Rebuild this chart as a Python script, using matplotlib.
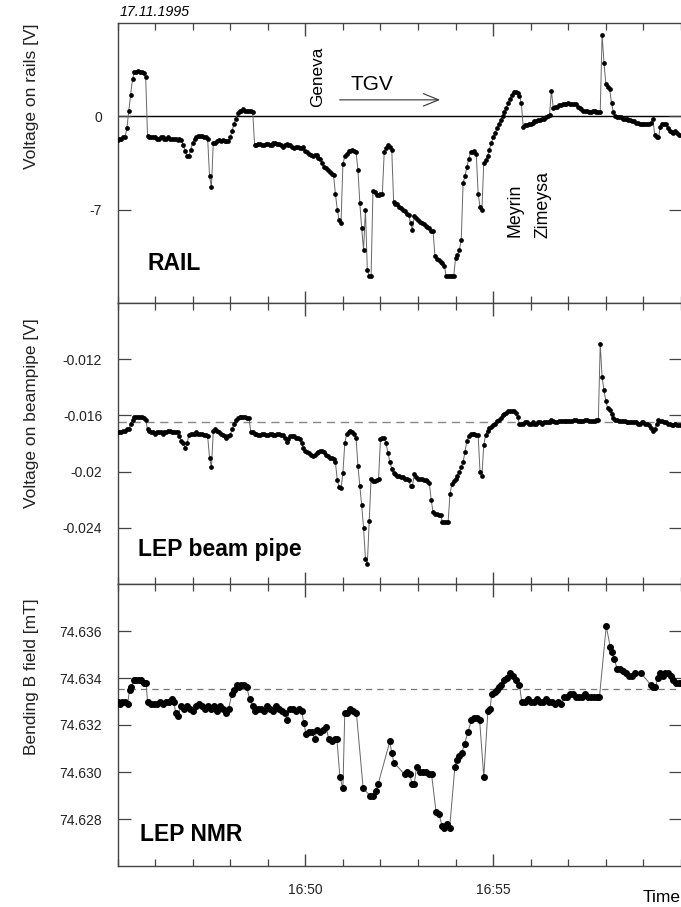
import numpy as np
import matplotlib
matplotlib.use("Agg")
import matplotlib.pyplot as plt
from matplotlib.ticker import FixedLocator, MultipleLocator, FuncFormatter

plt.rcParams['font.family'] = ['Liberation Sans', 'DejaVu Sans']

# time in minutes after 16:45; rail & beam pipe read every 0.05 min (one row = one minute)
t_grid = np.round(np.arange(0, 301) * 0.05, 2)

rail_v = [
    -1.8, -1.7, -1.7, -1.6, -1.6, -0.9, 0.4, 1.6, 2.8, 3.3, 3.3, 3.4, 3.3, 3.3, 3.2, 2.9, -1.5, -1.6, -1.6, -1.6,
    -1.6, -1.7, -1.7, -1.6, -1.6, -1.7, -1.7, -1.6, -1.7, -1.7, -1.7, -1.7, -1.8, -1.7, -1.8, -2.2, -2.6, -3.0, -3.0, -2.5,
    -2.0, -1.7, -1.6, -1.5, -1.5, -1.5, -1.6, -1.6, -1.7, -4.5, -5.3, -2.0, -2.0, -1.9, -1.8, -1.9, -1.8, -1.9, -1.9, -1.9,
    -1.6, -1.1, -0.6, -0.2, 0.2, 0.4, 0.4, 0.5, 0.4, 0.4, 0.4, 0.4, 0.3, -2.2, -2.2, -2.1, -2.1, -2.2, -2.2, -2.1,
    -2.1, -2.2, -2.2, -2.0, -2.0, -2.1, -2.1, -2.2, -2.3, -2.2, -2.1, -2.2, -2.2, -2.3, -2.4, -2.3, -2.3, -2.4, -2.4, -2.3,
    -2.6, -2.7, -2.8, -2.9, -3.0, -2.9, -2.9, -3.1, -3.2, -3.5, -3.8, -3.9, -4.0, -4.2, -4.3, -4.4, -5.8, -7.0, -7.8, -8.0,
    -3.6, -3.0, -2.8, -2.6, -2.6, -2.5, -2.6, -2.7, -4.0, -6.5, -8.4, -10.0, -7.0, -11.5, -12.0, -12.0, -5.6, -5.7, -5.9, -5.9,
    -5.8, -5.8, -2.7, -2.4, -2.2, -2.3, -2.5, -6.4, -6.6, -6.6, -6.8, -6.9, -7.0, -7.1, -7.3, -7.4, -8.0, -8.5, -7.5, -7.6,
    -7.8, -7.9, -8.0, -8.1, -8.2, -8.3, -8.4, -8.6, -8.6, -10.5, -10.7, -10.8, -10.9, -11.0, -11.2, -12.0, -12.0, -12.0, -12.0, -12.0,
    -10.6, -10.4, -10.0, -9.3, -5.0, -4.5, -3.8, -3.2, -2.7, -2.7, -2.6, -2.8, -5.8, -6.8, -7.0, -3.5, -3.3, -3.0, -2.5, -2.0,
    -1.6, -1.3, -0.9, -0.6, -0.3, 0.0, 0.3, 0.6, 1.0, 1.3, 1.6, 1.8, 1.8, 1.7, 1.5, 1.0, -0.8, -0.7, -0.7, -0.6,
    -0.6, -0.5, -0.4, -0.4, -0.3, -0.3, -0.2, -0.2, -0.1, 0.0, 0.1, 1.9, 0.6, 0.7, 0.7, 0.8, 0.8, 0.9, 0.9, 0.9,
    1.0, 0.9, 0.9, 0.9, 0.9, 0.7, 0.6, 0.5, 0.4, 0.4, 0.4, 0.3, 0.3, 0.4, 0.4, 0.3, 0.3, 0.3, 6.1, 4.0,
    2.4, 2.2, 2.0, 1.0, 0.3, 0.0, -0.1, -0.1, -0.1, -0.2, -0.2, -0.2, -0.3, -0.3, -0.4, -0.4, -0.5, -0.5, -0.6, -0.6,
    -0.6, -0.6, -0.6, -0.6, -0.5, -0.2, -1.4, -1.6, -1.6, -0.8, -0.6, -0.6, -0.6, -0.9, -1.1, -1.2, -1.3, -1.1, -1.3, -1.4,
    -1.4,
]

pipe_v = [
    -0.0172, -0.0172, -0.0172, -0.0171, -0.0171, -0.0170, -0.0170, -0.0166, -0.0163, -0.0161,
    -0.0161, -0.0161, -0.0161, -0.0161, -0.0162, -0.0163, -0.0170, -0.0171, -0.0172, -0.0172,
    -0.0173, -0.0172, -0.0172, -0.0172, -0.0173, -0.0172, -0.0172, -0.0171, -0.0171, -0.0172,
    -0.0172, -0.0172, -0.0172, -0.0175, -0.0178, -0.0180, -0.0183, -0.0180, -0.0174, -0.0173,
    -0.0173, -0.0173, -0.0172, -0.0173, -0.0173, -0.0173, -0.0174, -0.0174, -0.0175, -0.0190,
    -0.0197, -0.0171, -0.0170, -0.0171, -0.0172, -0.0173, -0.0174, -0.0175, -0.0176, -0.0175,
    -0.0174, -0.0170, -0.0166, -0.0163, -0.0162, -0.0161, -0.0161, -0.0161, -0.0161, -0.0162,
    -0.0162, -0.0172, -0.0172, -0.0173, -0.0173, -0.0174, -0.0174, -0.0173, -0.0173, -0.0174,
    -0.0174, -0.0173, -0.0173, -0.0174, -0.0174, -0.0173, -0.0173, -0.0174, -0.0174, -0.0176,
    -0.0179, -0.0177, -0.0175, -0.0175, -0.0175, -0.0176, -0.0176, -0.0177, -0.0180, -0.0183,
    -0.0185, -0.0186, -0.0187, -0.0188, -0.0189, -0.0188, -0.0187, -0.0186, -0.0185, -0.0185,
    -0.0186, -0.0188, -0.0189, -0.0190, -0.0190, -0.0191, -0.0193, -0.0206, -0.0211, -0.0212,
    -0.0201, -0.0180, -0.0173, -0.0172, -0.0171, -0.0172, -0.0173, -0.0176, -0.0196, -0.0210,
    -0.0224, -0.0240, -0.0262, -0.0266, -0.0235, -0.0205, -0.0207, -0.0207, -0.0206, -0.0205,
    -0.0177, -0.0176, -0.0176, -0.0180, -0.0187, -0.0193, -0.0198, -0.0201, -0.0202, -0.0203,
    -0.0203, -0.0204, -0.0204, -0.0205, -0.0205, -0.0206, -0.0210, -0.0210, -0.0202, -0.0204,
    -0.0205, -0.0205, -0.0205, -0.0206, -0.0206, -0.0207, -0.0208, -0.0220, -0.0229, -0.0230,
    -0.0230, -0.0231, -0.0231, -0.0236, -0.0236, -0.0236, -0.0236, -0.0216, -0.0209, -0.0207,
    -0.0205, -0.0203, -0.0200, -0.0197, -0.0193, -0.0186, -0.0178, -0.0175, -0.0173, -0.0173,
    -0.0173, -0.0174, -0.0174, -0.0200, -0.0203, -0.0181, -0.0174, -0.0171, -0.0169, -0.0168,
    -0.0167, -0.0166, -0.0164, -0.0163, -0.0162, -0.0160, -0.0159, -0.0158, -0.0157, -0.0157,
    -0.0157, -0.0157, -0.0158, -0.0161, -0.0166, -0.0166, -0.0166, -0.0165, -0.0165, -0.0166,
    -0.0166, -0.0165, -0.0166, -0.0166, -0.0165, -0.0165, -0.0166, -0.0165, -0.0165, -0.0165,
    -0.0165, -0.0163, -0.0164, -0.0165, -0.0165, -0.0164, -0.0164, -0.0164, -0.0164, -0.0164,
    -0.0164, -0.0164, -0.0164, -0.0163, -0.0163, -0.0164, -0.0164, -0.0164, -0.0164, -0.0163,
    -0.0163, -0.0164, -0.0164, -0.0164, -0.0164, -0.0163, -0.0163, -0.0109, -0.0133, -0.0142,
    -0.0150, -0.0155, -0.0156, -0.0159, -0.0162, -0.0163, -0.0163, -0.0164, -0.0164, -0.0164,
    -0.0164, -0.0165, -0.0165, -0.0165, -0.0165, -0.0165, -0.0165, -0.0166, -0.0166, -0.0165,
    -0.0165, -0.0166, -0.0166, -0.0167, -0.0169, -0.0171, -0.0170, -0.0166, -0.0163, -0.0164,
    -0.0164, -0.0165, -0.0165, -0.0166, -0.0166, -0.0167, -0.0167, -0.0166, -0.0167, -0.0167,
    -0.0167,
]

nmr_t = [
    0.00, 0.07, 0.13, 0.20, 0.27, 0.32, 0.37, 0.43, 0.50, 0.57, 0.63, 0.70, 0.76,
    0.80, 0.88, 0.96, 1.04, 1.12, 1.20, 1.28, 1.36, 1.44, 1.50, 1.55, 1.62, 1.68,
    1.76, 1.84, 1.92, 2.00, 2.08, 2.16, 2.24, 2.32, 2.40, 2.48, 2.56, 2.64, 2.72,
    2.80, 2.88, 2.96, 3.04, 3.10, 3.17, 3.24, 3.30, 3.37, 3.44, 3.52, 3.60, 3.66,
    3.74, 3.82, 3.90, 3.98, 4.06, 4.14, 4.22, 4.30, 4.38, 4.46, 4.52, 4.58, 4.66,
    4.74, 4.82, 4.90, 4.96, 5.02, 5.10, 5.18, 5.25, 5.32, 5.40, 5.48, 5.56, 5.62,
    5.70, 5.78, 5.84, 5.92, 6.00, 6.05, 6.12, 6.18, 6.26, 6.36, 6.54, 6.72, 6.80,
    6.88, 6.94, 7.25, 7.30, 7.36, 7.64, 7.70, 7.78, 7.84, 7.90, 7.96, 8.04, 8.12,
    8.20, 8.28, 8.36, 8.48, 8.56, 8.64, 8.70, 8.76, 8.84, 8.98, 9.03, 9.10, 9.16,
    9.24, 9.33, 9.42, 9.50, 9.58, 9.64, 9.75, 9.86, 9.92, 9.96, 10.04, 10.10, 10.16,
    10.22, 10.30, 10.38, 10.46, 10.54, 10.62, 10.70, 10.76, 10.84, 10.92, 11.00, 11.08, 11.16,
    11.24, 11.32, 11.40, 11.48, 11.56, 11.64, 11.72, 11.80, 11.88, 11.96, 12.04, 12.12, 12.20,
    12.28, 12.36, 12.44, 12.52, 12.60, 12.68, 12.76, 12.83, 13.01, 13.12, 13.16, 13.22, 13.30,
    13.38, 13.46, 13.54, 13.62, 13.70, 13.78, 13.94, 14.20, 14.26, 14.32, 14.38, 14.44, 14.52,
    14.58, 14.66, 14.74, 14.80, 14.88, 14.96, 15.00,
]

nmr_v = [
    74.6330, 74.6329, 74.6330, 74.6330, 74.6329, 74.6335, 74.6336, 74.6339, 74.6339, 74.6339, 74.6339, 74.6338, 74.6338,
    74.6330, 74.6329, 74.6329, 74.6329, 74.6330, 74.6329, 74.6330, 74.6330, 74.6331, 74.6330, 74.6325, 74.6324, 74.6328,
    74.6327, 74.6328, 74.6327, 74.6326, 74.6328, 74.6329, 74.6328, 74.6327, 74.6328, 74.6327, 74.6328, 74.6326, 74.6328,
    74.6327, 74.6325, 74.6327, 74.6333, 74.6335, 74.6337, 74.6336, 74.6337, 74.6337, 74.6336, 74.6331, 74.6328, 74.6326,
    74.6327, 74.6327, 74.6326, 74.6328, 74.6327, 74.6326, 74.6328, 74.6327, 74.6326, 74.6325, 74.6322, 74.6327, 74.6327,
    74.6326, 74.6327, 74.6326, 74.6321, 74.6316, 74.6317, 74.6317, 74.6314, 74.6318, 74.6317, 74.6318, 74.6319, 74.6314,
    74.6313, 74.6314, 74.6314, 74.6298, 74.6293, 74.6325, 74.6325, 74.6327, 74.6326, 74.6325, 74.6293, 74.6290, 74.6290,
    74.6292, 74.6295, 74.6313, 74.6308, 74.6304, 74.6299, 74.6300, 74.6299, 74.6295, 74.6295, 74.6302, 74.6300, 74.6300,
    74.6300, 74.6299, 74.6299, 74.6283, 74.6282, 74.6277, 74.6276, 74.6278, 74.6276, 74.6302, 74.6305, 74.6307, 74.6308,
    74.6312, 74.6317, 74.6322, 74.6323, 74.6323, 74.6322, 74.6298, 74.6326, 74.6327, 74.6333, 74.6334, 74.6335, 74.6336,
    74.6337, 74.6339, 74.6340, 74.6342, 74.6341, 74.6339, 74.6337, 74.6330, 74.6330, 74.6331, 74.6330, 74.6330, 74.6331,
    74.6330, 74.6330, 74.6331, 74.6330, 74.6330, 74.6329, 74.6330, 74.6329, 74.6332, 74.6332, 74.6333, 74.6333, 74.6332,
    74.6332, 74.6332, 74.6333, 74.6332, 74.6332, 74.6332, 74.6332, 74.6332, 74.6362, 74.6353, 74.6351, 74.6348, 74.6344,
    74.6344, 74.6343, 74.6342, 74.6341, 74.6341, 74.6342, 74.6342, 74.6337, 74.6336, 74.6336, 74.6340, 74.6342, 74.6341,
    74.6342, 74.6342, 74.6341, 74.6339, 74.6338, 74.6338, 74.6338,
]

W, H = 681, 907
fig = plt.figure(figsize=(W / 100, H / 100), dpi=100)

left = 117.5 / W
width = 1.0 - left


def panel(top_px, bot_px):
    return fig.add_axes([left, 1 - bot_px / H, width, (bot_px - top_px) / H])


ax1 = panel(22.7, 303)
ax2 = panel(303, 584)
ax3 = panel(584, 866)

edge = '#444444'
line_c = '#666666'

for ax in (ax1, ax2, ax3):
    ax.set_xlim(0, 15)
    ax.xaxis.set_major_locator(FixedLocator([5, 10]))
    ax.xaxis.set_minor_locator(MultipleLocator(1))
    ax.tick_params(axis='both', which='both', direction='in', colors=edge,
                   top=True, right=True, labelsize=10, labelcolor='#222222')
    ax.tick_params(axis='x', which='major', length=9, width=1.0, pad=12)
    ax.tick_params(axis='x', which='minor', length=5, width=0.9)
    ax.tick_params(axis='y', which='major', length=9, width=0.9, pad=11)
    for s in ('left', 'top', 'bottom'):
        ax.spines[s].set_color(edge)
        ax.spines[s].set_linewidth(1.0)
    ax.spines['right'].set_visible(False)

ax1.tick_params(labelbottom=False)
ax2.tick_params(labelbottom=False)
ax3.xaxis.set_major_formatter(FuncFormatter(lambda x, p: "16:%02d" % (45 + int(round(x)))))

# RAIL
ax1.plot(t_grid, rail_v, color=line_c, lw=0.7, marker='o', ms=2.4,
         mfc='black', mec='black', zorder=3)
ax1.axhline(0, color='black', lw=1.0, zorder=1)
ax1.set_ylim(-14, 7)
ax1.set_yticks([-7, 0])
ax1.set_yticklabels(['-7', '0'])

# LEP beam pipe
ax2.plot(t_grid, pipe_v, color=line_c, lw=0.7, marker='o', ms=2.4,
         mfc='black', mec='black', zorder=3)
ax2.axhline(-0.01648, color='#888888', lw=1.0, ls=(0, (6, 4)), zorder=1)
ax2.set_ylim(-0.028, -0.008)
ax2.set_yticks([-0.024, -0.02, -0.016, -0.012])
ax2.set_yticklabels(['-0.024', '-0.02', '-0.016', '-0.012'])

# LEP NMR
ax3.plot(nmr_t, nmr_v, color=line_c, lw=0.7, marker='o', ms=4.0,
         mfc='black', mec='black', zorder=3)
ax3.axhline(74.63352, color='#777777', lw=0.9, ls=(0, (5, 4)), zorder=1)
ax3.set_ylim(74.626, 74.638)
ax3.set_yticks([74.628, 74.630, 74.632, 74.634, 74.636])
ax3.set_yticklabels(['74.628', '74.630', '74.632', '74.634', '74.636'])

# panel names
ax1.text(0.054, 0.141, 'RAIL', transform=ax1.transAxes, fontsize=16.5,
         fontweight='bold', va='center', ha='left')
ax2.text(0.036, 0.121, 'LEP beam pipe', transform=ax2.transAxes, fontsize=16.5,
         fontweight='bold', va='center', ha='left')
ax3.text(0.040, 0.110, 'LEP NMR', transform=ax3.transAxes, fontsize=16.5,
         fontweight='bold', va='center', ha='left')

# station labels and train direction
ax1.text(5.33, 2.93, 'Geneva', rotation=90, fontsize=12.3, ha='center', va='center')
ax1.text(10.57, -7.08, 'Meyrin', rotation=90, fontsize=12.8, ha='center', va='center')
ax1.text(11.32, -6.6, 'Zimeysa', rotation=90, fontsize=12.8, ha='center', va='center')
ax1.text(6.76, 2.37, 'TGV', fontsize=15, ha='center', va='center')
ax1.annotate('', xy=(8.66, 1.22), xytext=(5.84, 1.22),
             arrowprops=dict(arrowstyle='->,head_length=1.1,head_width=0.45',
                             color='#333333', lw=0.8))

# axis labels
fig.text(32 / W, 1 - 96.5 / H, 'Voltage on rails [V]', rotation=90,
         fontsize=12.5, ha='center', va='center', color='#222222')
fig.text(32 / W, 1 - 413 / H, 'Voltage on beampipe [V]', rotation=90,
         fontsize=12.5, ha='center', va='center', color='#222222')
fig.text(32 / W, 1 - 677 / H, 'Bending B field [mT]', rotation=90,
         fontsize=12.5, ha='center', va='center', color='#222222')
fig.text(643 / W, 1 - 898 / H, 'Time', fontsize=12.5, ha='left', va='center')
fig.text(120 / W, 1 - 11.5 / H, '17.11.1995', fontsize=10.3, style='italic',
         ha='left', va='center')

fig.savefig('out.png', dpi=100)
